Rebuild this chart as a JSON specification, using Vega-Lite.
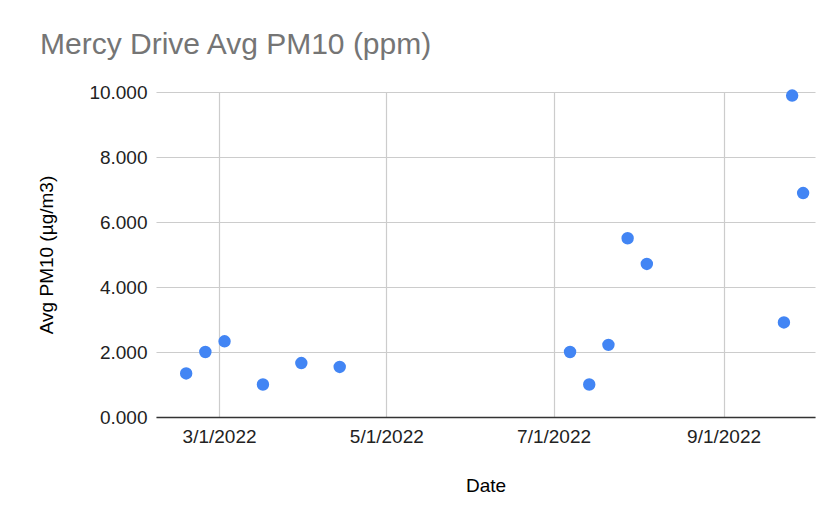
{
  "$schema": "https://vega.github.io/schema/vega-lite/v6.json",
  "autosize": {"type": "none"},
  "padding": {"left": 156, "top": 92, "right": 12, "bottom": 102},
  "width": 659,
  "height": 325,
  "background": "white",
  "title": {
    "text": "Mercy Drive Avg PM10 (ppm)",
    "anchor": "start",
    "frame": "group",
    "dx": -116,
    "font": "Liberation Sans",
    "fontSize": 30,
    "fontWeight": "normal",
    "color": "#757575",
    "offset": 23
  },
  "data": {
    "values": [
      {"Date": "2022-02-17T00:00:00", "PM10": 1.34},
      {"Date": "2022-02-24T00:00:00", "PM10": 2.0},
      {"Date": "2022-03-03T00:00:00", "PM10": 2.33},
      {"Date": "2022-03-17T00:00:00", "PM10": 1.0},
      {"Date": "2022-03-31T00:00:00", "PM10": 1.66},
      {"Date": "2022-04-14T00:00:00", "PM10": 1.54},
      {"Date": "2022-07-07T00:00:00", "PM10": 2.0},
      {"Date": "2022-07-14T00:00:00", "PM10": 1.0},
      {"Date": "2022-07-21T00:00:00", "PM10": 2.22},
      {"Date": "2022-07-28T00:00:00", "PM10": 5.5},
      {"Date": "2022-08-04T00:00:00", "PM10": 4.71},
      {"Date": "2022-09-23T00:00:00", "PM10": 2.91},
      {"Date": "2022-09-26T00:00:00", "PM10": 9.89},
      {"Date": "2022-09-30T00:00:00", "PM10": 6.89}
    ]
  },
  "mark": {"type": "circle", "size": 154, "color": "#4285F4", "opacity": 1},
  "encoding": {
    "x": {
      "field": "Date",
      "type": "temporal",
      "title": "Date",
      "scale": {
        "domain": [
          {"year": 2022, "month": 2, "date": 6},
          {"year": 2022, "month": 10, "date": 4, "hours": 8}
        ]
      },
      "axis": {
        "values": [
          {"year": 2022, "month": 3, "date": 1},
          {"year": 2022, "month": 5, "date": 1},
          {"year": 2022, "month": 7, "date": 1},
          {"year": 2022, "month": 9, "date": 1}
        ],
        "format": "%-m/%-d/%Y",
        "ticks": false,
        "labelPadding": 10,
        "labelFont": "Liberation Sans",
        "labelFontSize": 19,
        "labelColor": "#222222",
        "titleFont": "Liberation Sans",
        "titleFontSize": 19,
        "titleFontWeight": "normal",
        "titleColor": "#000000",
        "titlePadding": 30,
        "domainColor": "#333333",
        "domainWidth": 1.5,
        "gridColor": "#cccccc",
        "gridWidth": 1.2
      }
    },
    "y": {
      "field": "PM10",
      "type": "quantitative",
      "title": "Avg PM10 (µg/m3)",
      "scale": {"domain": [0, 10], "nice": false, "zero": true},
      "axis": {
        "values": [0, 2, 4, 6, 8, 10],
        "format": ".3f",
        "ticks": false,
        "domain": false,
        "labelPadding": 9,
        "labelFont": "Liberation Sans",
        "labelFontSize": 19,
        "labelColor": "#222222",
        "titleFont": "Liberation Sans",
        "titleFontSize": 19,
        "titleFontWeight": "normal",
        "titleColor": "#000000",
        "titlePadding": 32,
        "gridColor": "#cccccc",
        "gridWidth": 1.2
      }
    }
  },
  "config": {
    "view": {"stroke": null}
  }
}
